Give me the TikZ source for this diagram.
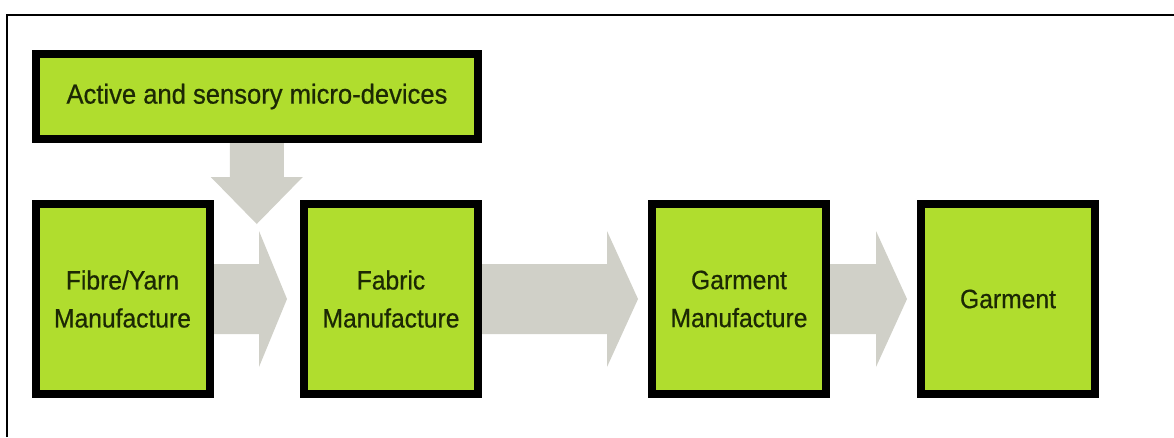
\documentclass[tikz,border=0pt]{standalone}
\usepackage{fontspec}
\setmainfont[FakeStretch=0.93,FakeBold=0.6]{Liberation Sans}
\usetikzlibrary{calc}
\definecolor{boxgreen}{RGB}{176,221,46}
\definecolor{arrgray}{RGB}{208,208,200}
\definecolor{txt}{RGB}{28,40,4}
\tikzset{
  stepbox/.style={draw=black, line width=8pt, fill=boxgreen, text=txt,
    minimum width=174pt, minimum height=190pt, inner sep=0pt, align=center,
    font=\fontsize{26.5}{38}\selectfont},
  topbox/.style={stepbox, minimum width=442pt, minimum height=85pt,
    font=\fontsize{27.5}{33}\selectfont},
  arr/.style={fill=arrgray, draw=none}
}
\begin{document}
\begin{tikzpicture}[x=1pt,y=-1pt]
\useasboundingbox (0,0) rectangle (1174,437);
\fill[white] (0,0) rectangle (1174,437);
% frame
\coordinate (fl) at (7,437);
\coordinate (fc) at (7,15);
\coordinate (fr) at (1174,15);
\draw[line width=2.5pt] (fl) -- (fc) -- (fr);
% node positions
\coordinate (pt) at (257,96.5);
\coordinate (p1) at (122.5,299);
\coordinate (p2) at (391,299);
\coordinate (p3) at (739,299);
\coordinate (p4) at (1008,299);
% invisible placeholders so the arrows can be drawn beneath the boxes
\path (pt) node[topbox, draw=none, fill=none, text opacity=0] (top) {Active and sensory micro-devices};
\path (p1) node[stepbox, draw=none, fill=none, text opacity=0] (fibre) {Fibre/Yarn\\Manufacture};
\path (p2) node[stepbox, draw=none, fill=none, text opacity=0] (fabric) {Fabric\\Manufacture};
\path (p3) node[stepbox, draw=none, fill=none, text opacity=0] (garman) {Garment\\Manufacture};
\path (p4) node[stepbox, draw=none, fill=none, text opacity=0] (garment) {Garment};
% horizontal arrows
\foreach \a/\b/\t in {fibre/fabric/13, fabric/garman/10, garman/garment/10}{
  \fill[arr] ($(\a.east)+(0,-35)$) -- ($(\b.west)+(-41,-35)$) -- ($(\b.west)+(-41,-68)$)
    -- ($(\b.west)+(-\t,0)$) -- ($(\b.west)+(-41,68)$) -- ($(\b.west)+(-41,35)$)
    -- ($(\a.east)+(0,35)$) -- cycle;
}
% down arrow
\coordinate (dmid) at ($(fibre.east)!0.5!(fabric.west)$);
\coordinate (dtop) at (top.south -| dmid);
\fill[arr] ($(dtop)+(-27,0)$) -- ($(dtop)+(-27,34)$) -- ($(dtop)+(-46,34)$)
  -- ($(dtop)+(0,81)$) -- ($(dtop)+(46,34)$) -- ($(dtop)+(27,34)$) -- ($(dtop)+(27,0)$) -- cycle;
% visible boxes
\node[topbox] at (top) {Active and sensory micro-devices};
\node[stepbox] at (fibre) {Fibre/Yarn\\Manufacture};
\node[stepbox] at (fabric) {Fabric\\Manufacture};
\node[stepbox] at (garman) {Garment\\Manufacture};
\node[stepbox] at (garment) {Garment};
\end{tikzpicture}
\end{document}
